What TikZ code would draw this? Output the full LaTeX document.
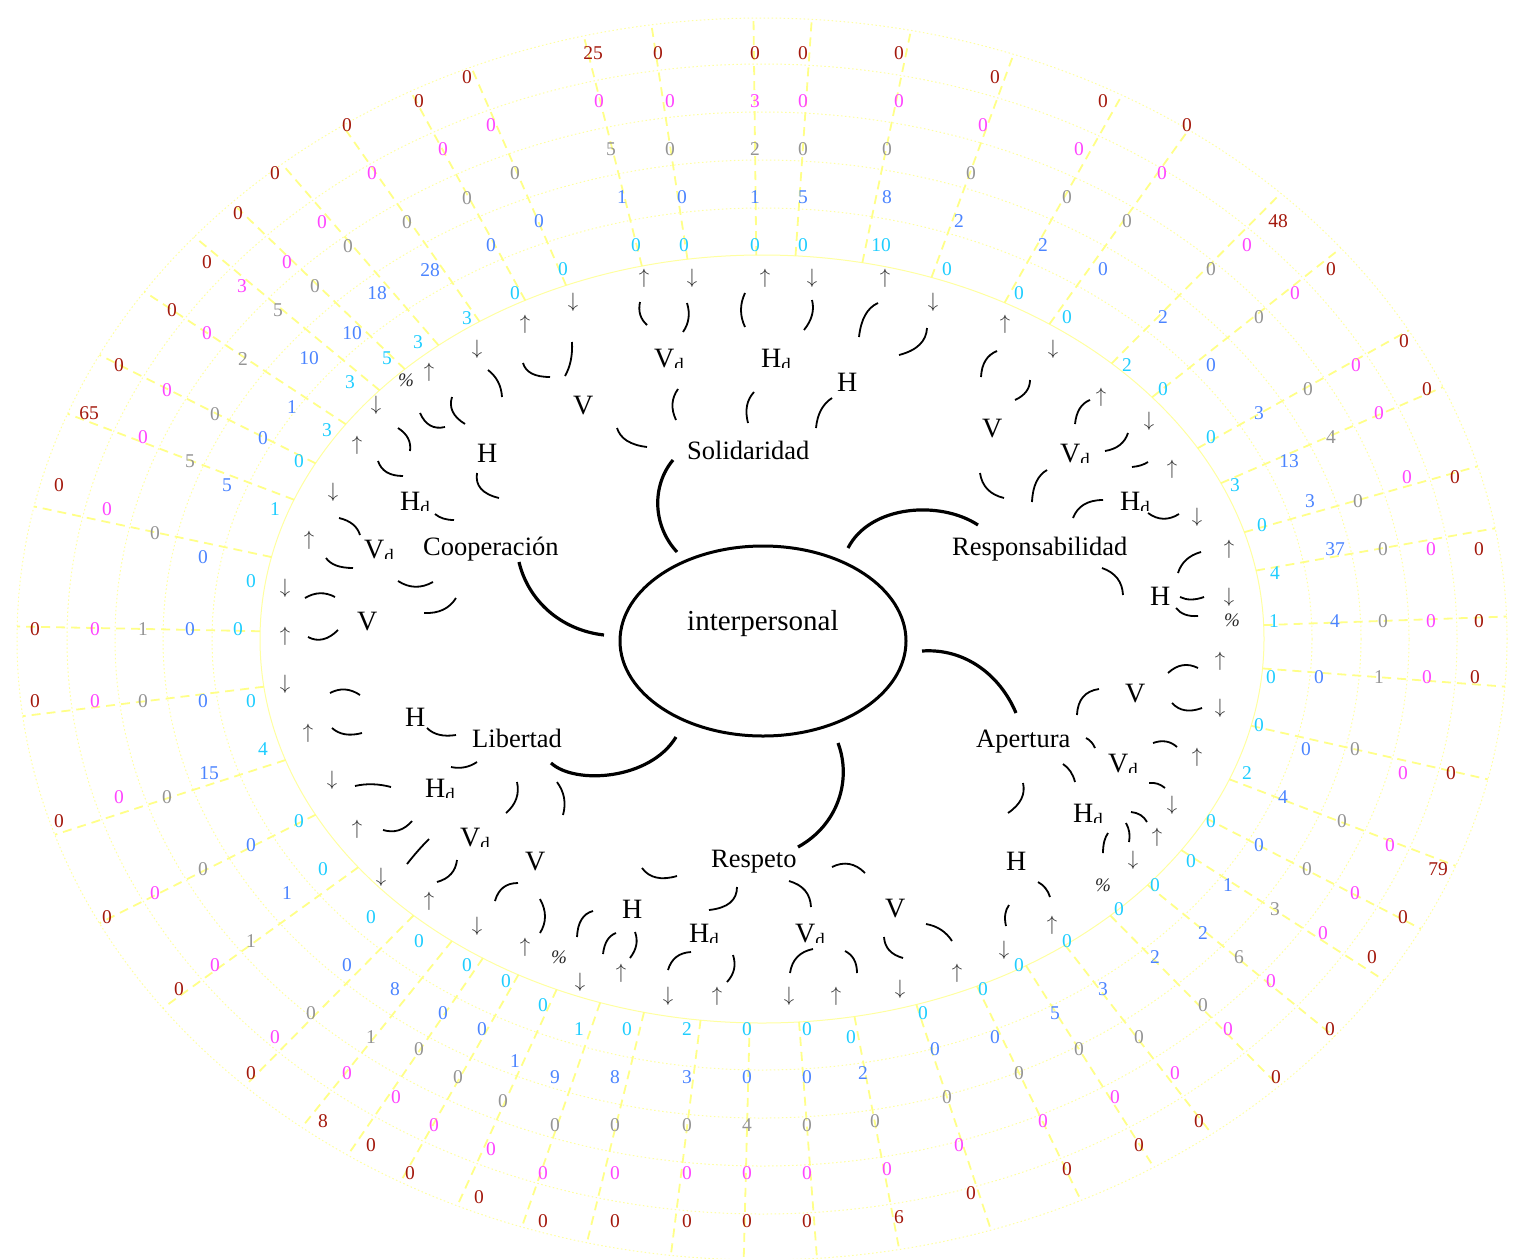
\documentclass[tikz,border=0pt]{standalone}
\usepackage{fontspec}
\setmainfont{Liberation Serif}
\usetikzlibrary{calc,shapes.geometric}
\definecolor{cDR}{HTML}{A3180C}
\definecolor{cMG}{HTML}{FF44FF}
\definecolor{cGY}{HTML}{949494}
\definecolor{cBL}{HTML}{4B84FF}
\definecolor{cCY}{HTML}{1ECDFF}
\definecolor{ringY}{HTML}{FFFFA0}
\definecolor{radY}{HTML}{FFFF88}
\newcommand\dlab[4]{\begin{scope}\clip (#2-6,#3-40) rectangle (#2+48,#3+0.5);
  \node[sublab] (#1) at (#2,#3) {#4\raisebox{-4pt}{\fontsize{19}{19}\selectfont d}};\end{scope}}
\def\drlist{1/35/629/0,2/59/485/0,3/89/413/65,4/119/365/0,5/172/310/0,6/207/262/0,7/238/213/0,8/275/173/0,9/347/125/0,10/419/101/0,11/467/77/0,12/593/53/25,13/658/53/0,14/755/53/0,15/803/53/0,16/899/53/0,17/995/77/0,18/1103/101/0,19/1187/125/0,20/1278/221/48,21/1331/269/0,22/1404/341/0,23/1427/389/0,24/1455/477/0,25/1479/549/0,26/1479/621/0,27/1475/677/0,28/1451/773/0,29/1438/869/79,30/1403/917/0,31/1372/957/0,32/1330/1029/0,33/1276/1077/0,34/1199/1121/0,35/1139/1145/0,36/1067/1169/0,37/971/1193/0,38/899/1217/6,39/807/1221/0,40/747/1221/0,41/687/1221/0,42/615/1221/0,43/543/1221/0,44/479/1197/0,45/410/1173/0,46/371/1145/0,47/323/1121/8,48/251/1073/0,49/179/989/0,50/107/917/0,51/59/821/0,52/35/701/0}
\def\mglist{1/95/629/0,2/107/509/0,3/143/437/0,4/167/390/0,5/207/333/0,6/242/286/3,7/287/262/0,8/322/222/0,9/372/173/0,10/443/149/0,11/491/125/0,12/599/101/0,13/670/101/0,14/755/101/3,15/803/101/0,16/899/101/0,17/983/125/0,18/1079/149/0,19/1162/173/0,20/1247/245/0,21/1295/293/0,22/1356/365/0,23/1379/413/0,24/1407/477/0,25/1431/549/0,26/1431/621/0,27/1427/677/0,28/1403/773/0,29/1390/845/0,30/1355/893/0,31/1323/933/0,32/1271/981/0,33/1228/1029/0,34/1175/1073/0,35/1115/1097/0,36/1043/1121/0,37/959/1145/0,38/887/1169/0,39/807/1173/0,40/747/1173/0,41/687/1173/0,42/615/1173/0,43/543/1173/0,44/491/1149/0,45/434/1125/0,46/396/1097/0,47/347/1073/0,48/275/1037/0,49/215/965/0,50/155/893/0,51/119/797/0,52/95/701/0}
\def\gylist{1/143/629/1,2/155/533/0,3/190/461/5,4/215/414/0,5/243/359/2,6/278/310/5,7/315/286/0,8/348/246/0,9/407/222/0,10/467/198/0,11/515/173/0,12/611/149/5,13/670/149/0,14/755/149/2,15/803/149/0,16/887/149/0,17/971/173/0,18/1067/197/0,19/1127/221/0,20/1211/269/0,21/1259/317/0,22/1308/389/0,23/1331/437/4,24/1358/501/0,25/1383/549/0,26/1383/621/0,27/1379/677/1,28/1355/749/0,29/1342/821/0,30/1307/869/0,31/1275/909/3,32/1239/957/6,33/1203/1005/0,34/1139/1037/0,35/1079/1049/0,36/1019/1073/0,37/947/1097/0,38/875/1121/0,39/807/1125/0,40/747/1125/4,41/687/1125/0,42/615/1125/0,43/555/1125/0,44/503/1101/0,45/458/1077/0,46/419/1049/0,47/371/1037/1,48/311/1013/0,49/251/941/1,50/203/869/0,51/167/797/0,52/143/701/0}
\def\bllist{1/190/629/0,2/203/557/0,3/227/485/5,4/263/438/0,5/292/407/1,6/309/358/10,7/352/333/10,8/377/293/18,9/430/270/28,10/491/245/0,11/539/221/0,12/622/197/1,13/682/197/0,14/755/197/1,15/803/197/5,16/887/197/8,17/959/221/2,18/1043/245/2,19/1103/269/0,20/1163/317/2,21/1211/365/0,22/1259/413/3,23/1289/461/13,24/1310/501/3,25/1335/549/37,26/1335/621/4,27/1319/677/0,28/1306/749/0,29/1283/797/4,30/1259/845/0,31/1228/885/1,32/1203/933/2,33/1155/957/2,34/1103/989/3,35/1055/1013/5,36/995/1037/0,37/935/1049/0,38/863/1073/2,39/807/1077/0,40/747/1077/0,41/687/1077/3,42/615/1077/8,43/555/1077/9,44/515/1061/1,45/482/1029/0,46/443/1013/0,47/395/989/8,48/347/965/0,49/287/893/1,50/251/845/0,51/209/773/15,52/203/701/0}
\def\cylist{1/238/629/0,2/251/581/0,3/275/509/1,4/299/461/0,5/327/430/3,6/350/382/3,7/387/358/5,8/418/342/3,9/467/318/3,10/515/293/0,11/563/269/0,12/636/245/0,13/684/245/0,14/755/245/0,15/803/245/0,16/881/245/10,17/947/269/0,18/1019/293/0,19/1067/317/0,20/1127/365/2,21/1163/389/0,22/1211/437/0,23/1235/485/3,24/1262/525/0,25/1275/573/4,26/1274/621/1,27/1271/677/0,28/1259/725/0,29/1247/773/2,30/1211/821/0,31/1191/861/0,32/1155/885/0,33/1119/909/0,34/1067/941/0,35/1019/965/0,36/983/989/0,37/923/1013/0,38/851/1037/0,39/807/1029/0,40/747/1029/0,41/687/1029/2,42/627/1029/0,43/579/1029/1,44/543/1005/0,45/506/981/0,46/467/965/0,47/419/941/0,48/371/917/0,49/323/869/0,50/299/821/0,51/263/749/4,52/251/701/0}
\def\arrlist{1/285/636/\uparrow,2/285/588/\downarrow,3/309/540/\uparrow,4/333/492/\downarrow,5/357/445/\uparrow,6/376/405/\downarrow,8/429/372/\uparrow,9/477/349/\downarrow,10/525/324/\uparrow,11/573/302/\downarrow,12/644/278/\uparrow,13/692/278/\downarrow,14/765/278/\uparrow,15/812/278/\downarrow,16/885/278/\uparrow,17/933/302/\downarrow,18/1005/324/\uparrow,19/1053/349/\downarrow,20/1101/397/\uparrow,21/1149/421/\downarrow,22/1172/469/\uparrow,23/1197/517/\downarrow,24/1229/549/\uparrow,25/1229/597/\downarrow,27/1220/661/\uparrow,28/1220/708/\downarrow,29/1197/757/\uparrow,30/1172/805/\downarrow,31/1157/837/\uparrow,32/1133/860/\downarrow,34/1052/925/\uparrow,35/1004/950/\downarrow,36/957/973/\uparrow,37/900/989/\downarrow,38/836/996/\uparrow,39/789/996/\downarrow,40/717/996/\uparrow,41/668/996/\downarrow,42/621/973/\uparrow,43/580/982/\downarrow,45/525/947/\uparrow,46/477/926/\downarrow,47/429/901/\uparrow,48/381/877/\downarrow,49/357/829/\uparrow,50/332/780/\downarrow,51/308/733/\uparrow,52/285/684/\downarrow}
\def\arclist{523/363/527/377/550/377,572/342/573/362/565/376,640/302/637/316/647/325,687/303/692/319/683/332,745/293/737/310/745/327,812/300/816/315/804/330,878/303/862/310/859/337,927/328/926/348/899/355,617/428/622/444/647/447,678/389/668/403/676/420,754/392/743/404/748/423,832/398/818/407/816/428,
488/370/501/380/502/397,420/413/428/431/445/427,452/397/447/413/465/424,398/428/412/437/410/451,378/461/383/476/403/476,477/473/474/492/499/498,435/514/442/520/454/520,339/518/356/522/360/535,326/558/333/568/353/568,398/581/415/592/433/582,424/613/446/614/456/598,305/598/320/589/335/597,308/637/323/645/338/630,
997/351/982/357/981/377,1030/380/1030/393/1015/400,980/473/983/493/1004/498,1090/400/1077/405/1075/424,1128/433/1123/448/1105/451,1047/470/1033/478/1032/502,1132/467/1142/466/1148/462,1103/500/1080/500/1073/518,1148/513/1163/524/1179/514,1201/552/1183/557/1178/573,1180/597/1190/602/1204/597,1176/608/1183/617/1198/616,1102/568/1122/575/1123/595,
1168/673/1182/660/1198/668,1172/703/1183/715/1202/708,1099/689/1078/692/1077/715,1086/738/1092/741/1095/748,1153/743/1167/738/1177/747,1149/783/1158/782/1165/788,1063/764/1072/770/1075/782,1131/812/1142/813/1147/822,1126/823/1131/832/1129/842,1108/833/1103/840/1103/853,1023/783/1027/800/1008/813,1038/882/1047/887/1050/897,1009/905/1003/913/1006/926,
832/867/850/858/865/873,926/924/943/927/952/941,884/937/885/953/903/958,642/868/653/883/677/876,737/887/737/907/709/910,789/881/810/887/811/907,593/911/578/915/577/937,616/933/605/937/603/954,635/932/640/945/630/958,691/952/673/953/668/970,733/955/738/970/727/982,813/949/793/953/790/973,845/951/857/957/857/973,
517/782/521/800/506/813,557/782/568/797/563/815,518/883/500/883/495/901,540/899/550/917/540/933,330/693/345/685/360/695,332/728/343/738/362/733,427/728/437/738/456/735,451/767/465/770/477/762,355/786/372/782/391/787,383/830/400/835/412/821,429/839/418/850/407/864,457/860/455/877/437/882}
\begin{document}
\begin{tikzpicture}[x=1pt,y=-1pt,
  num/.style={inner sep=0pt,font=\fontsize{19.5}{20}\selectfont},
  arr/.style={inner sep=0pt,text=black!80,font=\fontsize{20}{20}\selectfont},
  pct/.style={inner sep=0pt,text=black!85,font=\fontsize{19}{20}\selectfont\itshape},
  sublab/.style={inner sep=0pt,anchor=base west,font=\fontsize{28}{28}\selectfont},
  cat/.style={inner sep=0pt,anchor=base west,font=\fontsize{26.5}{28}\selectfont},
  sm/.style={line width=1.8pt},
  big/.style={line width=3.2pt},
  ring/.style={draw=ringY,line width=1pt,dash pattern=on 1.5pt off 2.5pt},
  radial/.style={draw=radY,line width=1.8pt,dash pattern=on 9pt off 6pt}]
\useasboundingbox (0,0) rectangle (1522,1258);
% rings
\draw[draw=ringY,line width=1pt] (762,639) ellipse [x radius=502pt,y radius=384pt];
\foreach \a/\b in {550/431,599/479,647/527,695/575,745/621}
  \draw[ring] (762,639) ellipse [x radius=\a pt,y radius=\b pt];
% radial lines
\foreach \i/\x/\y/\v in \gylist {
  \pgfmathsetmacro\t{atan2((\y-639)/479,(\x-762)/599)}
  \draw[radial] ({762+502*cos(\t)},{639+384*sin(\t)}) -- ({762+745*cos(\t)},{639+621*sin(\t)});
}
% numbers
\foreach \i/\x/\y/\v in \drlist \node[num,text=cDR] (dr\i) at (\x,\y) {\v};
\foreach \i/\x/\y/\v in \mglist \node[num,text=cMG] (mg\i) at (\x,\y) {\v};
\foreach \i/\x/\y/\v in \gylist \node[num,text=cGY] (gy\i) at (\x,\y) {\v};
\foreach \i/\x/\y/\v in \bllist \node[num,text=cBL] (bl\i) at (\x,\y) {\v};
\foreach \i/\x/\y/\v in \cylist \node[num,text=cCY] (cy\i) at (\x,\y) {\v};
% leaves
\foreach \i/\x/\y/\s in \arrlist \node[arr] (lf\i) at (\x,\y) {$\s$};
\node[pct] (lf7) at (406,380) {\%};
\node[pct] (lf26) at (1232,620) {\%};
\node[pct] (lf33) at (1103,885) {\%};
\node[pct] (lf44) at (559,957) {\%};
% small arcs
\foreach \ax/\ay/\bx/\by/\cx/\cy in \arclist
  \draw[sm] (\ax,\ay) .. controls ($(\ax,\ay)!0.667!(\bx,\by)$) and ($(\cx,\cy)!0.667!(\bx,\by)$) .. (\cx,\cy);
% centre
\node[draw,ellipse,line width=3pt,minimum width=286pt,minimum height=190pt,inner sep=0pt] (ctr) at (763,641) {};
\node[cat,font=\fontsize{29}{30}\selectfont] (ctrlab) at (687,630) {interpersonal};
% categories
\node[cat] (sol) at (687,459) {Solidaridad};
\node[cat] (coop) at (423,555) {Cooperación};
\node[cat] (resp) at (952,555) {Responsabilidad};
\node[cat] (aper) at (976,747) {Apertura};
\node[cat] (rspt) at (711,867) {Respeto};
\node[cat] (lib) at (472,747) {Libertad};
% big connectors
\draw[big] (677,552) .. controls (652,525) and (652,485) .. (673,460);
\draw[big] (848,548) .. controls (870,505) and (940,500) .. (978,525);
\draw[big] (922,651) .. controls (965,648) and (1000,675) .. (1016,713);
\draw[big] (838,743) .. controls (852,780) and (838,825) .. (798,847);
\draw[big] (551,763) .. controls (575,785) and (650,780) .. (676,737);
\draw[big] (519,562) .. controls (528,600) and (560,630) .. (604,635);
% sub labels
\node[sublab] (solV) at (573,414) {V};
\dlab{solVd}{654}{367}{V}
\dlab{solHd}{761}{367}{H}
\node[sublab] (solH) at (837,391) {H};
\node[sublab] (coopH) at (477,462) {H};
\dlab{coopHd}{400}{510}{H}
\dlab{coopVd}{364}{558}{V}
\node[sublab] (coopV) at (357,630) {V};
\node[sublab] (respV) at (982,437) {V};
\dlab{respVd}{1060}{462}{V}
\dlab{respHd}{1120}{510}{H}
\node[sublab] (respH) at (1150,605) {H};
\node[sublab] (aperV) at (1125,702) {V};
\dlab{aperVd}{1108}{772}{V}
\dlab{aperHd}{1073}{822}{H}
\node[sublab] (aperH) at (1006,870) {H};
\node[sublab] (rsptV) at (885,917) {V};
\dlab{rsptVd}{795}{942}{V}
\dlab{rsptHd}{689}{942}{H}
\node[sublab] (rsptH) at (622,918) {H};
\node[sublab] (libV) at (525,870) {V};
\dlab{libVd}{460}{846}{V}
\dlab{libHd}{425}{797}{H}
\node[sublab] (libH) at (405,726) {H};
\end{tikzpicture}
\end{document}
